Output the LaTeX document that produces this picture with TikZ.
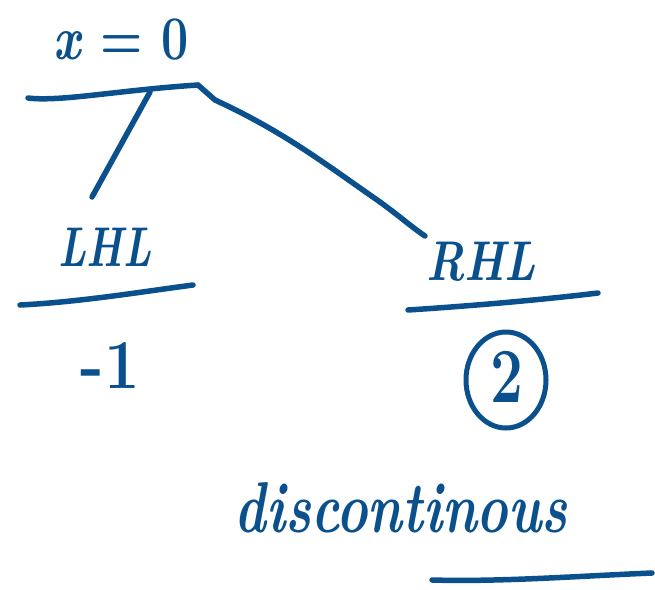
\documentclass[tikz,border=0pt]{standalone}
\usetikzlibrary{shapes.geometric}
\begin{document}
\begin{tikzpicture}[x=1pt,y=-1pt,
  ink/.style={draw=inkblue,line width=5.5pt,line cap=round,line join=round},
  hand/.style={text=inkblue,inner sep=0pt,font=\bfseries\itshape\fontsize{56}{56}\selectfont}]
\definecolor{inkblue}{RGB}{10,80,140}
\useasboundingbox (0,0) rectangle (655,589);
% texts
\node[hand,font=\bfseries\fontsize{62}{62}\selectfont] (x0) at (121,40) {\scalebox{0.78}[1]{\textit{x} = 0}};
\node[hand] (lhl) at (105,247) {\scalebox{0.72}[1]{LHL}};
\node[hand] (rhl) at (481,262) {\scalebox{0.8}[1]{RHL}};
\node[hand,font=\bfseries\fontsize{70}{70}\selectfont] (m1) at (110,366) {\scalebox{0.9}[1]{-1}};
\node[hand,font=\bfseries\fontsize{78}{78}\selectfont] (two) at (507,377) {\scalebox{0.75}[1]{2}};
\node[draw=inkblue,line width=5pt,ellipse,minimum width=80pt,minimum height=96pt,inner sep=0pt] (c2) at (506,380) {};
\node[hand,font=\bfseries\itshape\fontsize{72}{72}\selectfont] (disc) at (401,508) {\scalebox{0.74}[1]{discontinous}};
% coordinates
\coordinate (u1a) at (28,98);
\coordinate (u1b) at (198,85);
\coordinate (br) at (150,92);
\coordinate (lend) at (92,197);
\coordinate (rend) at (425,236);
\coordinate (u2a) at (20,305);
\coordinate (u2b) at (193,285);
\coordinate (u3a) at (408,310);
\coordinate (u3b) at (598,293);
\coordinate (u4a) at (432,580);
\coordinate (u4b) at (652,573);
% lines
\draw[ink] (u1a) .. controls (60,102) and (120,90) .. (u1b);
\draw[ink] (br) -- (lend);
\draw[ink] (u1b) -- (215,100) .. controls (280,130) and (320,160) .. (370,195) .. controls (395,212) and (410,226) .. (rend);
\draw[ink] (u2a) .. controls (80,302) and (140,292) .. (u2b);
\draw[ink] (u3a) .. controls (470,306) and (540,300) .. (u3b);
\draw[ink] (u4a) .. controls (500,582) and (580,576) .. (u4b);
\end{tikzpicture}
\end{document}
